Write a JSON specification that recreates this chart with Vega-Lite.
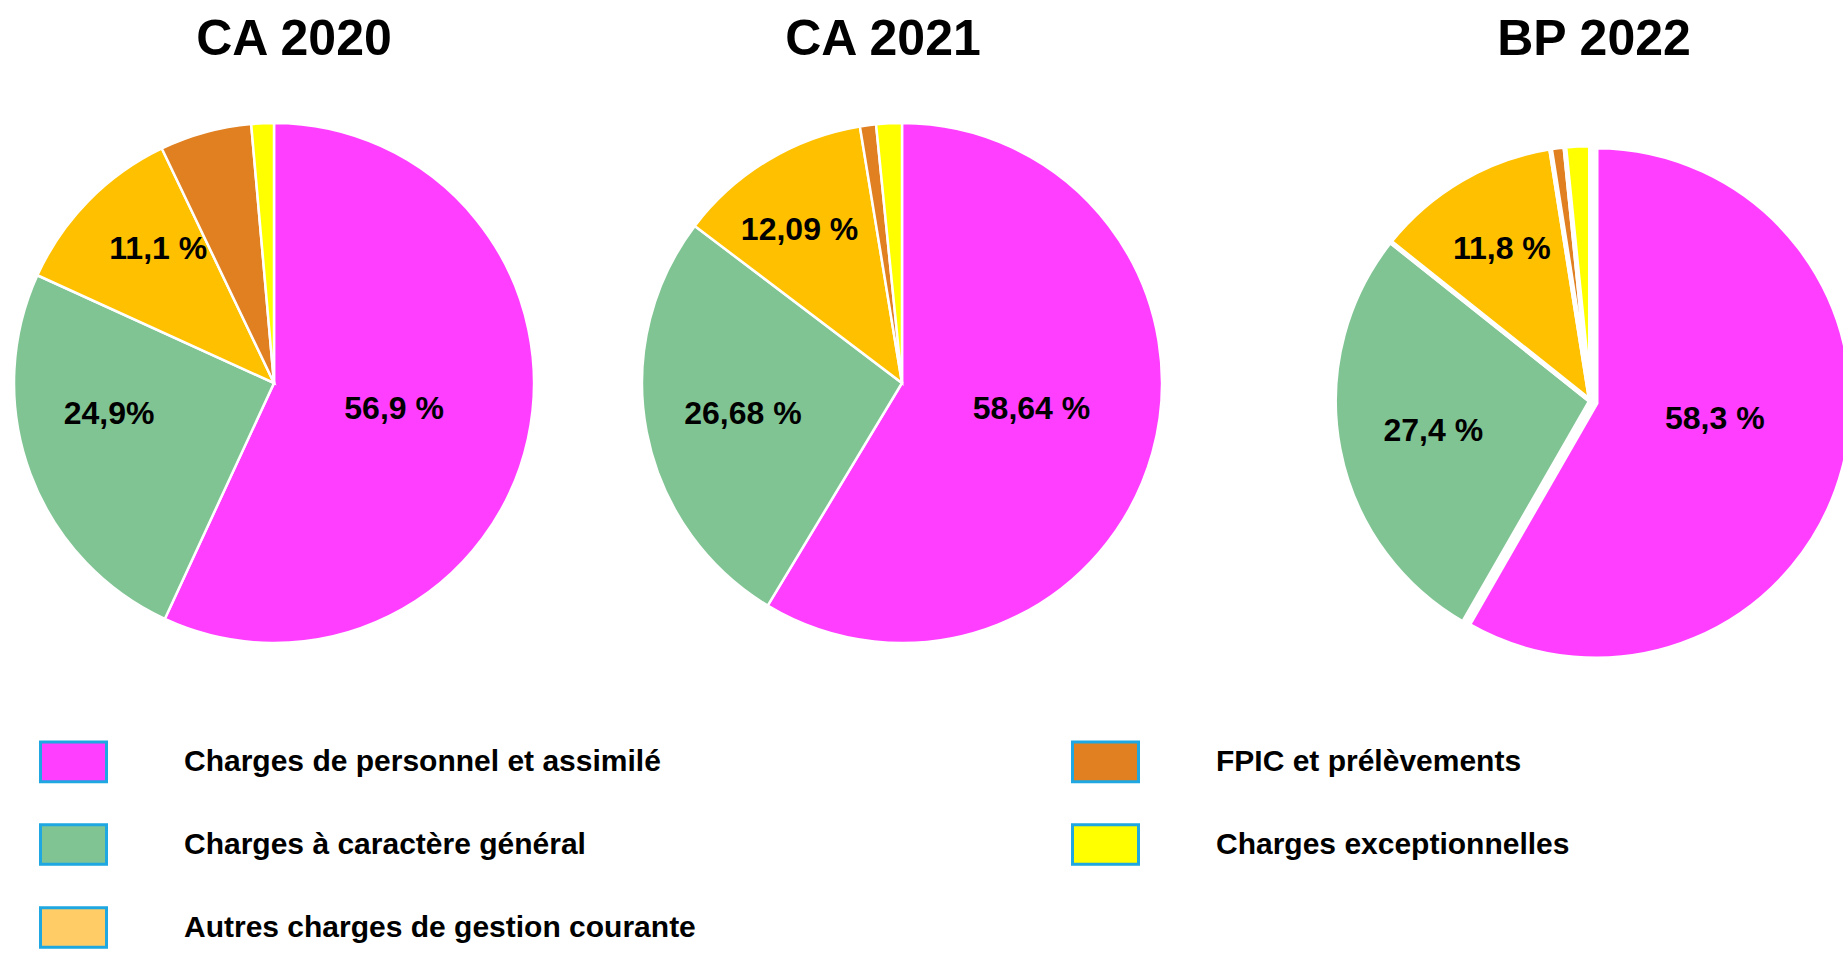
{
  "$schema": "https://vega.github.io/schema/vega-lite/v6.json",
  "padding": {"left": 9, "top": 15, "right": 0, "bottom": 0},
  "autosize": {"type": "pad"},
  "background": "white",
  "spacing": 0,
  "data": {"values": [
    {"annee": "CA 2020", "cat": "Charges de personnel et assimilé", "rang": 1, "pct": 56.9, "label": "56,9 %"},
    {"annee": "CA 2020", "cat": "Charges à caractère général", "rang": 2, "pct": 24.9, "label": "24,9%"},
    {"annee": "CA 2020", "cat": "Autres charges de gestion courante", "rang": 3, "pct": 11.1, "label": "11,1 %"},
    {"annee": "CA 2020", "cat": "FPIC et prélèvements", "rang": 4, "pct": 5.7, "label": ""},
    {"annee": "CA 2020", "cat": "Charges exceptionnelles", "rang": 5, "pct": 1.4, "label": ""},
    {"annee": "CA 2021", "cat": "Charges de personnel et assimilé", "rang": 1, "pct": 58.64, "label": "58,64 %"},
    {"annee": "CA 2021", "cat": "Charges à caractère général", "rang": 2, "pct": 26.68, "label": "26,68 %"},
    {"annee": "CA 2021", "cat": "Autres charges de gestion courante", "rang": 3, "pct": 12.09, "label": "12,09 %"},
    {"annee": "CA 2021", "cat": "FPIC et prélèvements", "rang": 4, "pct": 1.0, "label": ""},
    {"annee": "CA 2021", "cat": "Charges exceptionnelles", "rang": 5, "pct": 1.59, "label": ""},
    {"annee": "BP 2022", "cat": "Charges de personnel et assimilé", "rang": 1, "pct": 58.3, "label": "58,3 %"},
    {"annee": "BP 2022", "cat": "Charges à caractère général", "rang": 2, "pct": 27.4, "label": "27,4 %"},
    {"annee": "BP 2022", "cat": "Autres charges de gestion courante", "rang": 3, "pct": 11.8, "label": "11,8 %"},
    {"annee": "BP 2022", "cat": "FPIC et prélèvements", "rang": 4, "pct": 0.9, "label": ""},
    {"annee": "BP 2022", "cat": "Charges exceptionnelles", "rang": 5, "pct": 1.6, "label": ""}
  ]},
  "hconcat": [
    {
      "title": {"text": "CA 2020", "dx": 20},
      "width": 520, "height": 604,
      "transform": [{"filter": "datum.annee === 'CA 2020'"}],
      "layer": [
        {"mark": {"type": "arc", "radius": 260, "stroke": "white", "strokeWidth": 2.5},
         "encoding": {
           "theta": {"field": "pct", "type": "quantitative", "stack": true},
           "order": {"field": "rang", "type": "quantitative"},
           "color": {"field": "cat", "type": "nominal",
             "condition": {"test": "datum.cat === 'Autres charges de gestion courante'", "value": "#FFC000"},
             "scale": {"domain": ["Charges de personnel et assimilé", "Charges à caractère général", "Autres charges de gestion courante", "FPIC et prélèvements", "Charges exceptionnelles"],
                       "range": ["#FF3EFF", "#80C494", "#FFCC66", "#E08021", "#FFFF00"]},
             "legend": {"orient": "none", "legendX": 25, "legendY": 646, "title": null, "columns": 2,
               "symbolType": "M-1,-0.6H1V0.6H-1Z", "symbolSize": 4356, "symbolStrokeColor": "#1EA7E1", "symbolStrokeWidth": 3, "symbolOpacity": 1,
               "labelFont": "Liberation Sans", "labelFontSize": 30, "labelFontWeight": "bold", "labelColor": "#000000",
               "labelOffset": 76, "rowPadding": 22, "columnPadding": 370, "labelLimit": 1000, "padding": 0,
               "encode": {"symbols": {"update": {"stroke": {"value": "#1EA7E1"}, "strokeWidth": {"value": 3}}}}}}
         }},
        {"mark": {"type": "text", "radius": 123, "fontSize": 32, "fontWeight": "bold", "color": "#000000"},
         "encoding": {
           "theta": {"field": "pct", "type": "quantitative", "stack": true},
           "order": {"field": "rang", "type": "quantitative"},
           "text": {"condition": {"test": "datum.rang === 1", "field": "label"}, "value": ""}
         }},
        {"mark": {"type": "text", "radius": 162, "fontSize": 32, "fontWeight": "bold", "color": "#000000", "dx": -13, "dy": -25},
         "encoding": {
           "theta": {"field": "pct", "type": "quantitative", "stack": true},
           "order": {"field": "rang", "type": "quantitative"},
           "text": {"condition": {"test": "datum.rang === 2", "field": "label"}, "value": ""}
         }},
        {"mark": {"type": "text", "radius": 179, "fontSize": 32, "fontWeight": "bold", "color": "#000000", "dx": 12, "dy": -9},
         "encoding": {
           "theta": {"field": "pct", "type": "quantitative", "stack": true},
           "order": {"field": "rang", "type": "quantitative"},
           "text": {"condition": {"test": "datum.rang === 3", "field": "label"}, "value": ""}
         }}
      ]
    },
    {
      "title": {"text": "CA 2021", "dx": -19},
      "width": 726, "height": 604,
      "transform": [{"filter": "datum.annee === 'CA 2021'"}],
      "layer": [
        {"mark": {"type": "arc", "radius": 260, "stroke": "white", "strokeWidth": 2.5},
         "encoding": {
           "theta": {"field": "pct", "type": "quantitative", "stack": true},
           "order": {"field": "rang", "type": "quantitative"},
           "color": {"field": "cat", "type": "nominal",
             "condition": {"test": "datum.cat === 'Autres charges de gestion courante'", "value": "#FFC000"}}
         }},
        {"mark": {"type": "text", "radius": 123, "fontSize": 32, "fontWeight": "bold", "color": "#000000", "dx": 11, "dy": -7},
         "encoding": {
           "theta": {"field": "pct", "type": "quantitative", "stack": true},
           "order": {"field": "rang", "type": "quantitative"},
           "text": {"condition": {"test": "datum.rang === 1", "field": "label"}, "value": ""}
         }},
        {"mark": {"type": "text", "radius": 162, "fontSize": 32, "fontWeight": "bold", "color": "#000000"},
         "encoding": {
           "theta": {"field": "pct", "type": "quantitative", "stack": true},
           "order": {"field": "rang", "type": "quantitative"},
           "text": {"condition": {"test": "datum.rang === 2", "field": "label"}, "value": ""}
         }},
        {"mark": {"type": "text", "radius": 179, "fontSize": 32, "fontWeight": "bold", "color": "#000000", "dx": -10},
         "encoding": {
           "theta": {"field": "pct", "type": "quantitative", "stack": true},
           "order": {"field": "rang", "type": "quantitative"},
           "text": {"condition": {"test": "datum.rang === 3", "field": "label"}, "value": ""}
         }}
      ]
    },
    {
      "title": {"text": "BP 2022", "dx": 40},
      "width": 578, "height": 640,
      "transform": [{"filter": "datum.annee === 'BP 2022'"}],
      "layer": [
        {"mark": {"type": "arc", "radius": 256, "stroke": "white", "strokeWidth": 5, "clip": true,
                  "xOffset": {"expr": "datum.rang === 1 ? 42 : 36.5"}, "yOffset": {"expr": "datum.rang === 1 ? 2 : 0"}},
         "encoding": {
           "theta": {"field": "pct", "type": "quantitative", "stack": true},
           "order": {"field": "rang", "type": "quantitative"},
           "color": {"field": "cat", "type": "nominal",
             "condition": {"test": "datum.cat === 'Autres charges de gestion courante'", "value": "#FFC000"}}
         }},
        {"mark": {"type": "text", "radius": 123, "fontSize": 32, "fontWeight": "bold", "color": "#000000", "xOffset": 42, "yOffset": -14},
         "encoding": {
           "theta": {"field": "pct", "type": "quantitative", "stack": true},
           "order": {"field": "rang", "type": "quantitative"},
           "text": {"condition": {"test": "datum.rang === 1", "field": "label"}, "value": ""}
         }},
        {"mark": {"type": "text", "radius": 160, "fontSize": 32, "fontWeight": "bold", "color": "#000000", "xOffset": 36.5},
         "encoding": {
           "theta": {"field": "pct", "type": "quantitative", "stack": true},
           "order": {"field": "rang", "type": "quantitative"},
           "text": {"condition": {"test": "datum.rang === 2", "field": "label"}, "value": ""}
         }},
        {"mark": {"type": "text", "radius": 176, "fontSize": 32, "fontWeight": "bold", "color": "#000000", "xOffset": 36.5},
         "encoding": {
           "theta": {"field": "pct", "type": "quantitative", "stack": true},
           "order": {"field": "rang", "type": "quantitative"},
           "text": {"condition": {"test": "datum.rang === 3", "field": "label"}, "value": ""}
         }}
      ]
    }
  ],
  "resolve": {"scale": {"theta": "independent"}},
  "config": {
    "font": "Liberation Sans",
    "view": {"stroke": null},
    "title": {"fontSize": 50, "fontWeight": "bold", "color": "#000000", "font": "Liberation Sans", "anchor": "middle", "offset": 16, "baseline": "alphabetic"},
    "text": {"font": "Liberation Sans"}
  }
}
